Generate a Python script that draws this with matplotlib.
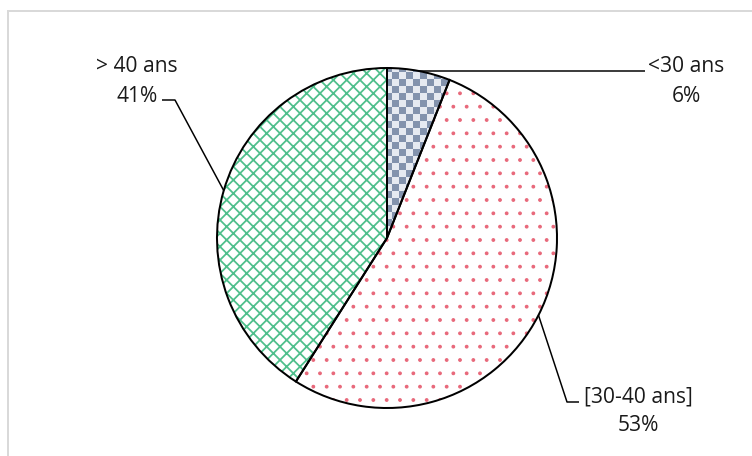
import numpy as np
import matplotlib.pyplot as plt
from matplotlib.colors import ListedColormap

# Répartition par tranche d'âge
categories = ["<30 ans", "[30-40 ans]", "> 40 ans"]
values = [6, 53, 41]
pct_labels = ["6%", "53%", "41%"]

W, H = 752, 456
plt.rcParams["font.family"] = ["Open Sans", "DejaVu Sans"]

fig = plt.figure(figsize=(W / 80, H / 80), dpi=80)
ax = fig.add_axes([0, 0, 1, 1])
ax.axis("off")

center = (387, H - 238)
radius = 170

# fond des secteurs + hachures (couleur de hachure = couleur de bord)
hatches = [None, ".", "xx"]
hatch_cols = ["white", "#e8687a", "#4fbf8c"]
hatch_lw = [1.0, 1.0, 1.6]
wedges = []
for i, v in enumerate(values):
    with plt.rc_context({"hatch.linewidth": hatch_lw[i]}):
        w, _ = ax.pie(values, center=center, radius=radius, startangle=90,
                      counterclock=False, colors=["white"] * 3,
                      wedgeprops=dict(linewidth=0, edgecolor=hatch_cols[i]))
    for j, wj in enumerate(w):
        if j != i:
            wj.remove()
        else:
            if hatches[i]:
                wj.set_hatch(hatches[i])
            wedges.append(wj)

# damier pour le premier secteur
cell = 7
n = int(2 * radius / cell) + 2
checker = np.indices((n, n)).sum(axis=0) % 2
img = ax.imshow(checker, cmap=ListedColormap(["#e6eaf1", "#8393ad"]),
                interpolation="nearest",
                extent=(center[0] - radius, center[0] - radius + n * cell,
                        center[1] - radius, center[1] - radius + n * cell),
                zorder=2)
img.set_clip_path(wedges[0])

# contours noirs
outline, _ = ax.pie(values, center=center, radius=radius, startangle=90,
                    counterclock=False,
                    wedgeprops=dict(facecolor="none", edgecolor="black",
                                    linewidth=1.8))
for w in outline:
    w.set_zorder(3)


def mid_point(w):
    a = np.deg2rad((w.theta1 + w.theta2) / 2)
    return center[0] + radius * np.cos(a), center[1] + radius * np.sin(a)


lk = dict(color="black", linewidth=1.35, zorder=4, solid_capstyle="butt")
# <30 ans
x0, y0 = mid_point(outline[0])
ax.plot([x0, 645], [y0, y0], **lk)
# [30-40 ans]
x0, y0 = mid_point(outline[1])
ax.plot([x0, 567, 579], [y0, H - 402, H - 402], **lk)
# > 40 ans
x0, y0 = mid_point(outline[2])
ax.plot([x0, 175, 162], [y0, H - 100, H - 100], **lk)

fs = 18.9
label_pos = [(686, 72, 102), (638, 402, 431), (137, 72, 102)]
for cat, pct, (lx, ly1, ly2) in zip(categories, pct_labels, label_pos):
    ax.text(lx, H - ly1, cat, ha="center", va="baseline", fontsize=fs,
            color="#1a1a1a")
    ax.text(lx, H - ly2, pct, ha="center", va="baseline", fontsize=fs,
            color="#1a1a1a")

# cadre gris
ax.plot([8, W], [H - 11, H - 11], color="#d9d9d9", linewidth=1.8)
ax.plot([8, 8], [H - 11, 0], color="#d9d9d9", linewidth=1.8)

ax.set_xlim(0, W)
ax.set_ylim(0, H)

fig.savefig("out.png", dpi=80)
